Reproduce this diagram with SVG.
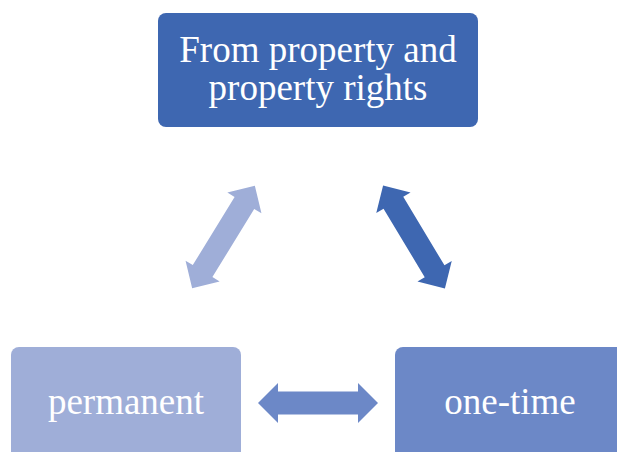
<svg xmlns="http://www.w3.org/2000/svg" width="617" height="452" viewBox="0 0 617 452">
  <style>
    .label { font-family: "Liberation Serif", "Times New Roman", serif; font-size: 37px; fill: #ffffff; text-anchor: middle; }
    .dark { fill: #3E67B1; }
    .mid { fill: #6C88C7; }
    .light { fill: #9FAED8; }
  </style>
  <defs>
    <!-- double-headed block arrow, centred on the origin -->
    <path id="dbl-arrow" d="M -60 0 L -40 -20 L -40 -11.5 L 40 -11.5 L 40 -20 L 60 0 L 40 20 L 40 11.5 L -40 11.5 L -40 20 Z"/>
  </defs>

  <g id="connectors">
    <use href="#dbl-arrow" class="light" transform="translate(223.5,237) rotate(-58.5)"/>
    <use href="#dbl-arrow" class="dark" transform="translate(414,237) rotate(59)"/>
    <use href="#dbl-arrow" class="mid" transform="translate(318,403)"/>
  </g>

  <g id="node-property">
    <rect class="dark" x="158" y="13" width="320" height="114" rx="8"/>
    <text class="label" x="318" y="62">From property and</text>
    <text class="label" x="318" y="100">property rights</text>
  </g>

  <g id="node-permanent">
    <rect class="light" x="11" y="347" width="230" height="120" rx="8"/>
    <text class="label" x="126" y="414">permanent</text>
  </g>

  <g id="node-one-time">
    <rect class="mid" x="395" y="347" width="230" height="120" rx="8"/>
    <text class="label" x="510" y="414">one-time</text>
  </g>
</svg>
